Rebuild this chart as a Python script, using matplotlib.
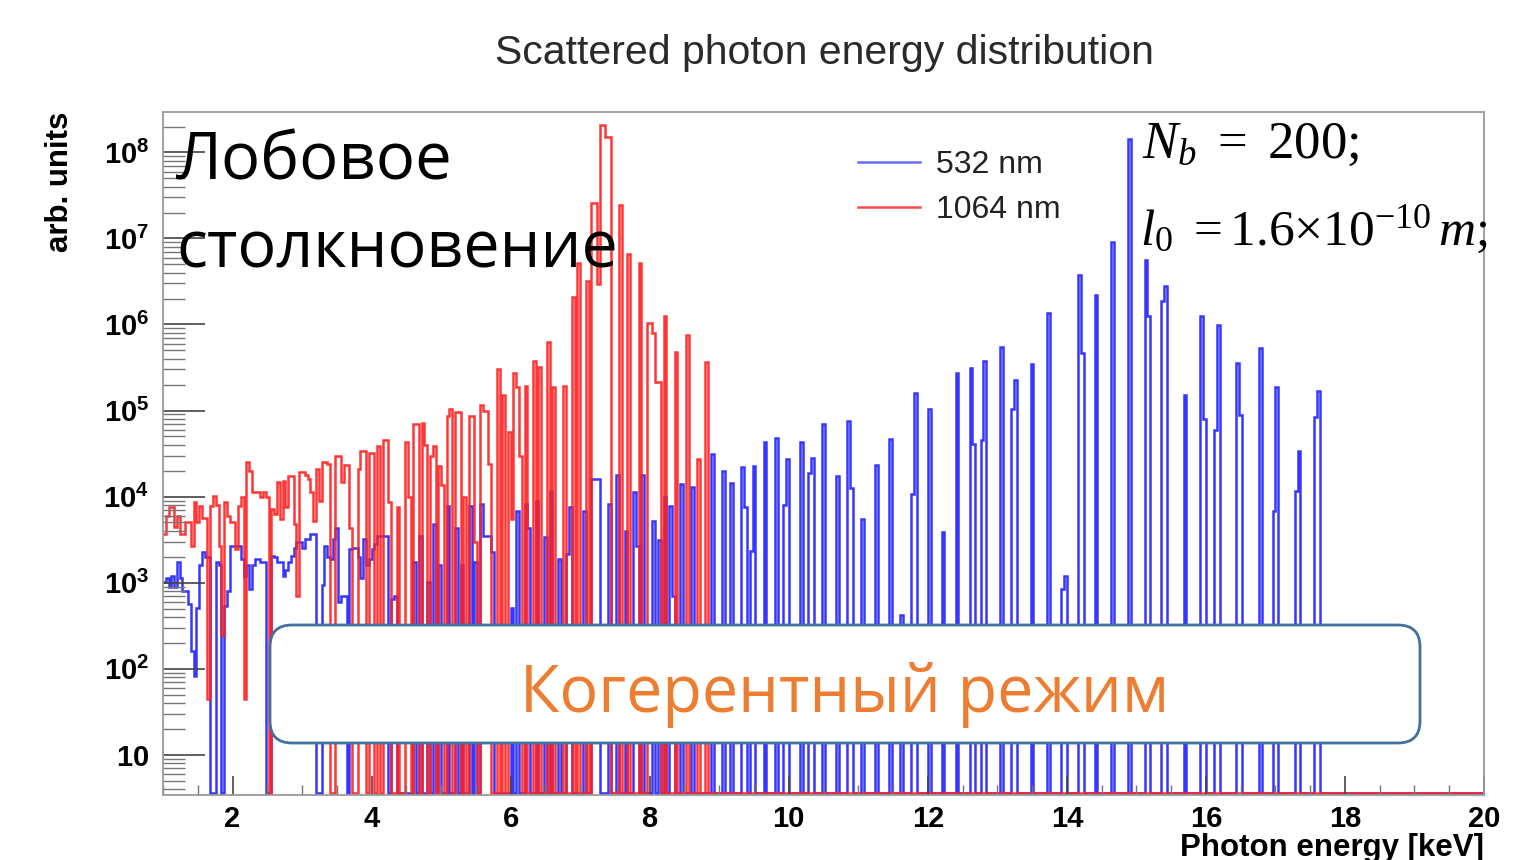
import numpy as np
import matplotlib.pyplot as plt
from matplotlib.patches import FancyBboxPatch
from matplotlib.ticker import MultipleLocator, FixedLocator, LogLocator, NullFormatter

plt.rcParams['mathtext.fontset'] = 'custom'
plt.rcParams['mathtext.rm'] = 'Liberation Serif'
plt.rcParams['mathtext.it'] = 'Liberation Serif:italic'
plt.rcParams['mathtext.bf'] = 'Liberation Sans:bold'

# histogram binning [keV]
e_lo, e_hi, bin_w = 1.0, 20.0, 0.04
y_lo, y_hi = 3.4, 2.95e8
empty = 3.55  # where empty bins are drawn (just above the frame, as ROOT does)

# 532 nm : energy of first bin of each group, log10(bin content) per bin
blue_e = [1.00, 1.76, 1.88, 2.56, 3.28, 3.68, 4.28, 4.60, 4.68, 4.80, 4.88, 4.96,
          5.08, 5.20, 5.28, 5.40, 5.48, 5.56, 6.00, 6.08, 6.20, 6.36, 6.48, 6.56,
          6.68, 6.80, 7.04, 7.16, 7.40, 7.52, 7.64, 7.76, 7.88, 8.04, 8.12, 8.20,
          8.28, 8.44, 8.60,
          8.88, 9.04, 9.16, 9.32, 9.44, 9.64, 9.80, 9.92, 10.16, 10.28, 10.48, 10.68,
          10.84, 11.04, 11.24, 11.44, 11.60, 11.76, 12.00, 12.20, 12.40, 12.60, 12.76,
          13.04, 13.20, 13.48, 13.72, 13.92, 14.16, 14.40, 14.64, 14.88, 15.12, 15.36,
          15.68, 15.92, 16.12, 16.44, 16.76, 16.96, 17.28, 17.56]
blue_log = [
    [3.01, 3.05, 2.95, 3.08, 2.95, 3.24, 3.05, 2.90, 2.90, 2.75, 2.20, 1.92, 2.70,
     3.20, 3.36, 3.30, 3.30],
    [3.24, 3.20],
    [2.73, 2.90, 3.43, 3.43, 3.43, 3.43, 3.28, 3.08, 3.20, 2.93, 3.20, 3.28, 3.28,
     3.24, 3.24],
    [3.31, 3.30, 3.24, 3.24, 3.08, 3.15, 3.24, 3.31, 3.40, 3.47, 3.47, 3.40, 3.51,
     3.51, 3.57, 3.57],
    [2.97, 3.43, 3.30, 3.28, 3.51, 3.63, 2.78, 2.85, 2.85],
    [3.39, 3.40, 3.40, 3.30, 3.05, 3.51, 3.20, 3.28, 3.39, 3.45, 3.54, 3.54, 3.54, 3.54],
    [2.81, 2.85],
    [3.24], [3.54], [3.01], [3.68], [3.20], [3.89], [3.63], [3.20], [3.89], [3.24],
    [3.91, 3.54, 3.54, 3.54, 3.36], [2.70], [3.83], [3.91, 3.64], [3.95], [3.53],
    [4.07], [3.28], [3.33, 3.88], [3.83], [4.20, 4.20, 4.20], [3.91], [4.25], [3.60],
    [4.05, 3.43], [4.25], [3.72], [3.49], [4.00], [3.89, 2.84], [4.15], [4.11],
    [4.50], [4.30], [4.16], [4.34, 3.88], [3.37, 4.35], [4.63], [4.68], [3.90, 4.44],
    [4.63], [4.27, 4.45], [4.84], [4.24], [4.88, 4.10], [3.74], [4.37], [4.67],
    [2.62], [4.03, 5.20], [5.02], [3.59], [5.44], [5.49, 4.61], [4.66, 5.57],
    [5.74], [5.02, 5.36], [5.54], [6.13], [2.93, 3.08], [6.58, 5.67], [6.34],
    [6.96], [8.16], [6.75, 6.10], [6.27, 6.45], [5.18], [6.10, 4.90], [4.77, 5.99],
    [5.55, 4.95], [5.73], [3.83, 5.27], [4.07, 4.53], [4.92, 5.23]]

# 1064 nm
red_e = [1.00, 2.56, 3.48, 3.80, 3.96, 4.08, 4.16, 4.36, 4.48, 4.60, 4.72, 4.84,
         4.96, 5.08, 5.20, 5.32, 5.40, 5.56, 5.80, 5.88, 5.96, 6.20, 6.32, 6.40,
         6.52, 6.60, 6.76, 6.88, 6.96, 7.08, 7.16, 7.56, 7.68, 7.84, 7.96, 8.20,
         8.36, 8.52, 8.68, 8.80]
red_log = [
    [3.57, 3.78, 3.88, 3.88, 3.65, 3.78, 3.57, 3.57, 3.70, 3.70, 3.43, 3.94, 3.71,
     3.89, 3.75, 3.75, 1.65, 3.89, 4.01, 3.90, 3.43, 2.39, 3.94, 3.78, 3.71, 3.71,
     3.39, 3.89, 4.00, 1.65, 4.40, 4.30, 4.05, 4.05, 4.05, 4.00, 4.05, 4.00],
    [3.86, 3.80, 4.17, 3.74, 4.18, 3.88, 4.24, 4.24, 3.68, 2.85, 4.29, 4.29, 4.25,
     4.20, 4.05, 3.72, 4.32, 3.95, 4.40, 4.40, 4.38],
    [4.47, 4.47, 4.17, 4.37, 4.37, 3.63], [4.32, 4.53, 4.53], [4.51, 4.51], [4.59],
    [4.66, 4.66, 3.94], [3.88], [4.63, 4.00], [4.84, 4.84], [4.86, 4.60], [4.47, 4.59],
    [4.36, 4.13], [4.94, 5.02], [4.98, 4.98], [4.00], [4.94, 4.94, 3.47],
    [5.07, 4.99, 4.99, 4.38], [5.48], [5.18], [4.75, 3.74, 5.44, 5.27, 4.47], [5.29],
    [5.57], [5.51], [5.80], [5.27], [5.29], [6.32], [6.72], [6.50],
    [7.41, 7.41, 6.47, 8.32, 8.32, 8.18, 8.18], [7.39], [6.82], [6.72],
    [6.02, 6.02, 5.90, 5.33, 5.33], [6.10], [5.68], [5.88], [4.44], [5.56]]


def make_hist(starts, groups):
    edges = np.arange(e_lo, e_hi + bin_w / 2, bin_w)
    vals = np.full(len(edges) - 1, empty)
    for e0, grp in zip(starts, groups):
        i0 = int(round((e0 - e_lo) / bin_w))
        vals[i0:i0 + len(grp)] = 10.0 ** np.array(grp)
    return edges, vals


fig = plt.figure(figsize=(15.36, 8.6), dpi=100)
W, H = 1536, 860
ax = fig.add_axes([163 / W, 1 - 795 / H, 1321 / W, 683 / H])

edges, blue_vals = make_hist(blue_e, blue_log)
_, red_vals = make_hist(red_e, red_log)
h_blue = ax.stairs(blue_vals, edges, baseline=None, color='#2020ff', lw=1.8, alpha=0.9,
                   label='532 nm')
h_red = ax.stairs(red_vals, edges, baseline=None, color='#ff2020', lw=1.8, alpha=0.9,
                  label='1064 nm')

ax.set_yscale('log')
ax.set_xlim(e_lo, e_hi)
ax.set_ylim(y_lo, y_hi)

ax.xaxis.set_minor_locator(MultipleLocator(0.5))
ax.set_xticks(np.arange(2, 21, 2))
ax.set_xticklabels([str(v) for v in range(2, 21, 2)], fontsize=21, fontweight='bold',
                   family='Liberation Sans')

decades = [10, 1e2, 1e3, 1e4, 1e5, 1e6, 1e7, 1e8]
ax.yaxis.set_major_locator(FixedLocator(decades))
ax.yaxis.set_minor_locator(LogLocator(base=10, subs=np.arange(2, 10)))
ax.yaxis.set_minor_formatter(NullFormatter())
ax.set_yticklabels([r'$\mathbf{10}$'] + [r'$\mathbf{10^{%d}}$' % p for p in range(2, 9)],
                   fontsize=21)

ax.tick_params(axis='x', which='major', direction='in', length=14, width=1.2,
               color='#444444', pad=7, top=False)
ax.tick_params(axis='x', which='minor', direction='in', length=7, width=1,
               color='#777777', top=False)
ax.tick_params(axis='y', which='major', direction='in', length=30, width=1.2,
               color='#444444', pad=10, right=False)
ax.tick_params(axis='y', which='minor', direction='in', length=16, width=1,
               color='#777777', right=False)
for s in ax.spines.values():
    s.set_color('#9a9a9a')
    s.set_linewidth(1.3)

leg = ax.legend(handles=[h_blue, h_red], loc='upper left', frameon=False,
                bbox_to_anchor=(858 / W, 1 - 150 / H), bbox_transform=fig.transFigure,
                borderaxespad=0, borderpad=0, handlelength=1.95, handletextpad=0.5,
                labelspacing=0.46, prop={'family': 'Liberation Sans', 'size': 23})
for t in leg.get_texts():
    t.set_color('#222222')
for ln, c in zip(leg.get_lines(), ['#6a6aff', '#ff4a4a']):
    ln.set_color(c)

# axis titles (ROOT style, aligned at the axis end)
fig.text(60 / W, 1 - 112 / H, 'arb. units', rotation=90, ha='center', va='top',
         fontsize=22.5, fontweight='bold', family='Liberation Sans')
fig.text(1484 / W, 1 - 848 / H, 'Photon energy [keV]', ha='right', va='center',
         fontsize=22.5, fontweight='bold', family='Liberation Sans')
fig.text(824 / W, 1 - 53 / H, 'Scattered photon energy distribution', ha='center',
         va='center', fontsize=29.5, family='Liberation Sans', color='#2a2a2a')

# slide overlay in pixel coordinates
ov = fig.add_axes([0, 0, 1, 1], zorder=5)
ov.set_xlim(0, W)
ov.set_ylim(H, 0)
ov.axis('off')
ov.patch.set_alpha(0)

ov.text(176, 180, 'Лобовое', fontsize=47, family='Open Sans', va='baseline')
ov.text(176, 268, 'столкновение', fontsize=46.5, family='Open Sans', va='baseline')

ov.text(1142, 158, r'$N_b\ =\ 200;$', fontsize=38, va='baseline')
ov.text(1140, 245, r'$l_0\ {=}1.6{\times}10^{-10}\,m;$', fontsize=37, va='baseline')

box = FancyBboxPatch((270, 625), 1150, 118, boxstyle='round,pad=0,rounding_size=22',
                     facecolor='white', edgecolor='#41719c', lw=2)
ov.add_patch(box)
ov.text(845, 712, 'Когерентный режим', fontsize=46.5, family='Open Sans',
        color='#ed7d31', ha='center', va='baseline')

fig.savefig('out.png', dpi=100)
